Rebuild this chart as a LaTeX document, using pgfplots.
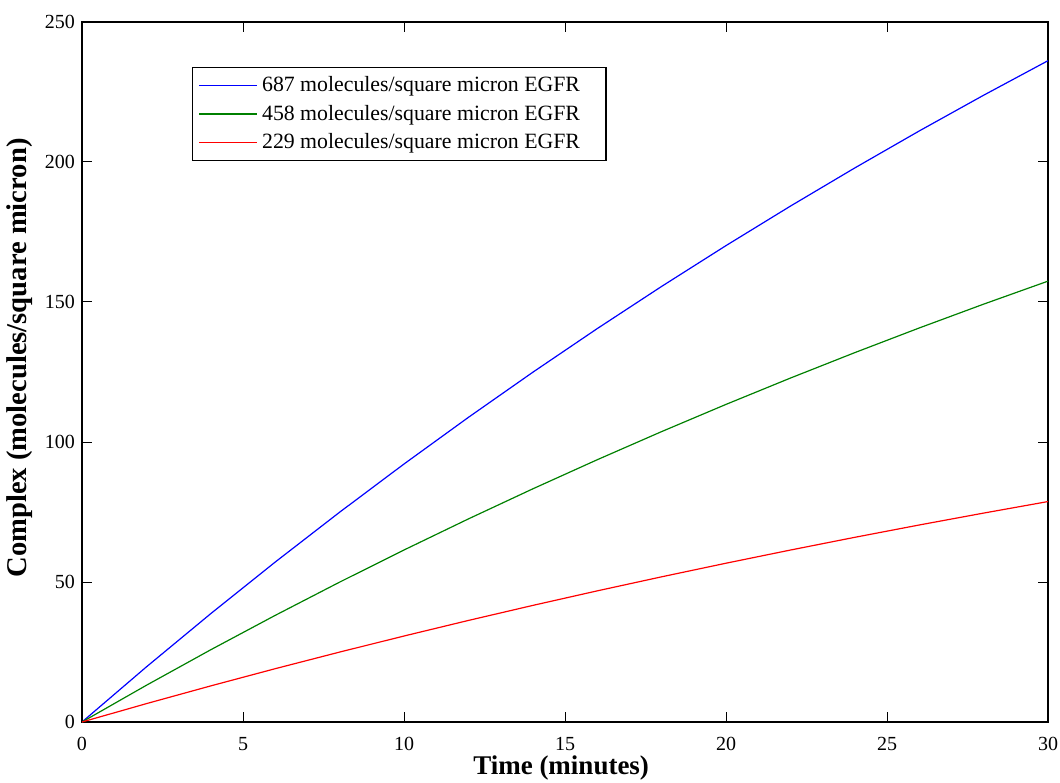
\documentclass[border=0pt]{standalone}
\usepackage{pgfplots}
\pgfplotsset{compat=1.18}
\usepackage{fontspec}
\setmainfont{Liberation Serif}
\definecolor{mblue}{rgb}{0,0,1}
\definecolor{mgreen}{rgb}{0,0.5,0}
\definecolor{mred}{rgb}{1,0,0}
\begin{document}
\begin{tikzpicture}
\useasboundingbox (-41pt,-30pt) rectangle (489pt,361pt);
\begin{axis}[
  scale only axis,
  width=483pt, height=350pt,
  xmin=0, xmax=30, ymin=0, ymax=250,
  xtick={0,5,10,15,20,25,30},
  ytick={0,50,100,150,200,250},
  tick align=inside,
  major tick length=5pt,
  tick style={black, line width=0.5pt},
  axis line style={black, line width=0.6pt},
  /pgf/number format/assume math mode=true,
  ticklabel style={font=\fontsize{10}{12}\selectfont},
  xticklabel style={yshift=-4pt},
  xlabel={\textbf{Time (minutes)}},
  ylabel={\textbf{Complex (molecules/square micron)}},
  xlabel style={font=\fontsize{13.5}{16}\selectfont, at={(axis description cs:0.496,-0.0657)}, anchor=center},
  ylabel style={font=\fontsize{14.3}{17}\selectfont, at={(axis description cs:-0.0642,0.52)}, anchor=center},
  legend style={at={(axis description cs:0.114,0.936)}, anchor=north west,
    font=\fontsize{10.9}{12.5}\selectfont, draw=black, line width=0.6pt,
    inner xsep=3pt, inner ysep=2.5pt, row sep=1.2pt},
  legend cell align=left,
  legend image code/.code={\draw[#1, line width=0.7pt] (2.5pt,0pt) -- (31.5pt,0pt);},
]
\addplot[color=mblue, line width=0.6pt] coordinates {
(0,0) (2,19.68) (4,38.71) (6,57.12) (8,74.92) (10,92.14) (12,108.80) (14,124.91)
(16,140.49) (18,155.56) (20,170.14) (22,184.24) (24,197.88) (26,211.08) (28,223.84) (30,236.18)};
\addlegendentry{687 molecules/square micron EGFR\hspace*{8pt}\mbox{}}
\addplot[color=mgreen, line width=0.6pt] coordinates {
(0,0) (2,13.12) (4,25.81) (6,38.08) (8,49.95) (10,61.43) (12,72.53) (14,83.27)
(16,93.66) (18,103.71) (20,113.43) (22,122.83) (24,131.92) (26,140.72) (28,149.23) (30,157.45)};
\addlegendentry{458 molecules/square micron EGFR\hspace*{8pt}\mbox{}}
\addplot[color=mred, line width=0.6pt] coordinates {
(0,0) (2,6.56) (4,12.90) (6,19.04) (8,24.97) (10,30.71) (12,36.27) (14,41.64)
(16,46.83) (18,51.85) (20,56.71) (22,61.41) (24,65.96) (26,70.36) (28,74.61) (30,78.73)};
\addlegendentry{229 molecules/square micron EGFR\hspace*{8pt}\mbox{}}
\end{axis}
\end{tikzpicture}
\end{document}
